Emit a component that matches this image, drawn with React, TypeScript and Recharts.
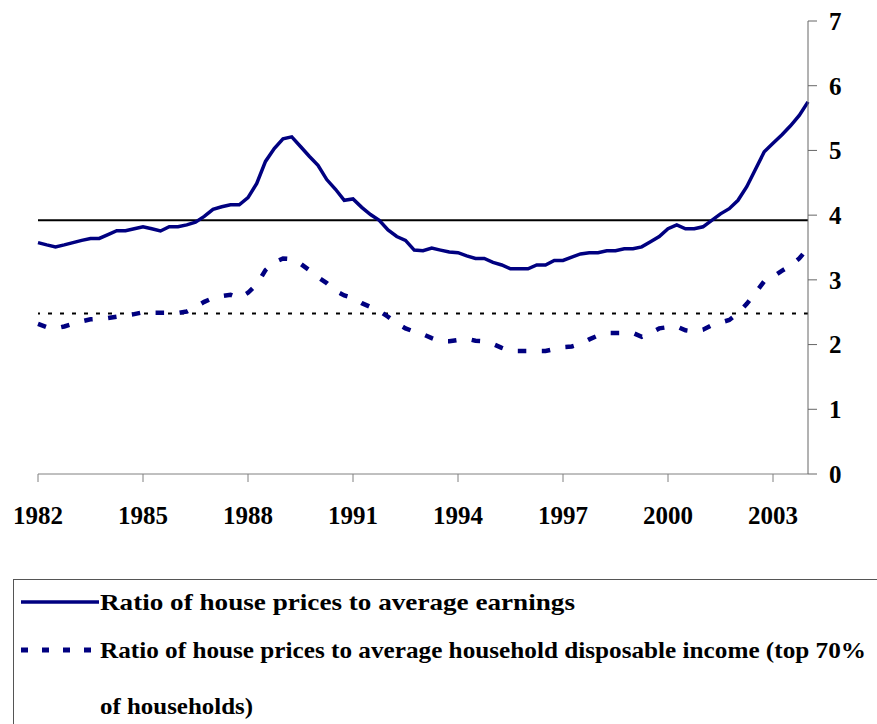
import React from "react";
import {
  LineChart,
  Line,
  XAxis,
  YAxis,
  ReferenceLine,
  Legend
} from "recharts";

// quarterly, 1982 Q1 .. 2004 Q1
const earningsRatio = [
  3.575, 3.54, 3.51, 3.54, 3.575, 3.61, 3.64, 3.64, 3.7, 3.76,
  3.76, 3.79, 3.82, 3.79, 3.755, 3.82, 3.82, 3.85, 3.89, 3.98,
  4.09, 4.13, 4.16, 4.16, 4.27, 4.49, 4.83, 5.03, 5.18, 5.21,
  5.06, 4.91, 4.77, 4.55, 4.4, 4.23, 4.25, 4.12, 4.01, 3.92,
  3.77, 3.67, 3.61, 3.46, 3.45, 3.49, 3.46, 3.43, 3.42, 3.37,
  3.33, 3.33, 3.27, 3.23, 3.17, 3.17, 3.17, 3.23, 3.23, 3.3,
  3.3, 3.35, 3.4, 3.42, 3.42, 3.45, 3.45, 3.48, 3.48, 3.51,
  3.59, 3.67, 3.79, 3.85, 3.79, 3.79, 3.82, 3.92, 4.02, 4.1,
  4.23, 4.44, 4.71, 4.98, 5.11, 5.24, 5.38, 5.54, 5.75
];

const incomeRatio = [
  2.32, 2.27, 2.25, 2.28, 2.32, 2.36, 2.39, 2.4, 2.41, 2.43,
  2.45, 2.47, 2.5, 2.49, 2.49, 2.49, 2.49, 2.51, 2.58, 2.66,
  2.72, 2.75, 2.77, 2.72, 2.8, 2.93, 3.15, 3.27, 3.33, 3.32,
  3.25, 3.15, 3.04, 2.95, 2.83, 2.76, 2.72, 2.64, 2.58, 2.52,
  2.43, 2.33, 2.25, 2.2, 2.16, 2.1, 2.05, 2.05, 2.07, 2.09,
  2.06, 2.05, 2.01, 1.95, 1.9, 1.9, 1.9, 1.9, 1.9, 1.93,
  1.96, 1.97, 2.01, 2.08, 2.14, 2.18, 2.18, 2.18, 2.18, 2.12,
  2.18, 2.25, 2.27, 2.28, 2.22, 2.2, 2.23, 2.3, 2.34, 2.38,
  2.48, 2.63, 2.8, 2.98, 3.05, 3.14, 3.22, 3.33, 3.49
];

const yearTicks = [1982, 1985, 1988, 1991, 1994, 1997, 2000, 2003];
const valueTicks = [0, 1, 2, 3, 4, 5, 6, 7];

const earningsAverage = 3.92;
const incomeAverage = 2.48;

const data = earningsRatio.map((v, i) => ({
  t: 1982 + i / 4,
  earnings: v,
  income: incomeRatio[i]
}));

const NAVY = "#000080";
const FONT = "Liberation Serif";

function LegendBox() {
  const textProps = { fontFamily: FONT, fontWeight: 700, fontSize: 24, fill: "#000" };
  return (
    <svg width={866} height={150} style={{ display: "block" }}>
      <rect x={0.5} y={0.5} width={900} height={200} fill="#fff" stroke="#555" strokeWidth={1} />
      <line x1={8} x2={86} y1={23} y2={23} stroke={NAVY} strokeWidth={3.5} />
      <text x={87} y={31} textLength={475} lengthAdjust="spacingAndGlyphs" {...textProps}>
        Ratio of house prices to average earnings
      </text>
      <line x1={8} x2={86} y1={71} y2={71} stroke={NAVY} strokeWidth={5} strokeDasharray="7 14" />
      <text x={87} y={79} textLength={766} lengthAdjust="spacingAndGlyphs" {...textProps}>
        Ratio of house prices to average household disposable income (top 70%
      </text>
      <text x={87} y={135} textLength={153} lengthAdjust="spacingAndGlyphs" {...textProps}>
        of households)
      </text>
    </svg>
  );
}

export default function App() {
  const tickStyle = { fontFamily: "Times New Roman", fontWeight: 700, fontSize: 25, fill: "#000" };
  return (
    <div style={{ position: "absolute", left: 0, top: 0, width: 877, height: 724, background: "#fff", fontFamily: FONT }}>
      <LineChart
        width={877}
        height={724}
        data={data}
        margin={{ top: 21, right: 9, left: 38, bottom: 210 }}
      >
        <XAxis
          dataKey="t"
          type="number"
          domain={[1982, 2004]}
          ticks={yearTicks}
          interval={0}
          height={40}
          tickSize={8}
          tickMargin={24}
          stroke="#808080"
          tick={tickStyle}
        />
        <YAxis
          orientation="right"
          type="number"
          domain={[0, 7]}
          ticks={valueTicks}
          interval={0}
          width={60}
          tickSize={9}
          tickMargin={12}
          stroke="#666"
          tick={tickStyle}
        />
        <ReferenceLine y={earningsAverage} stroke="#000" strokeWidth={2} />
        <ReferenceLine y={incomeAverage} stroke="#000" strokeWidth={2} strokeDasharray="4 8" />
        <Line
          type="linear"
          dataKey="earnings"
          stroke={NAVY}
          strokeWidth={3.5}
          dot={false}
          isAnimationActive={false}
        />
        <Line
          type="linear"
          dataKey="income"
          stroke={NAVY}
          strokeWidth={4.5}
          strokeDasharray="8.5 15.5"
          dot={false}
          isAnimationActive={false}
        />
        <Legend
          layout="vertical"
          verticalAlign="middle"
          align="center"
          content={() => <LegendBox />}
          wrapperStyle={{ left: 13, top: 579, width: 866, height: 150 }}
        />
      </LineChart>
    </div>
  );
}
